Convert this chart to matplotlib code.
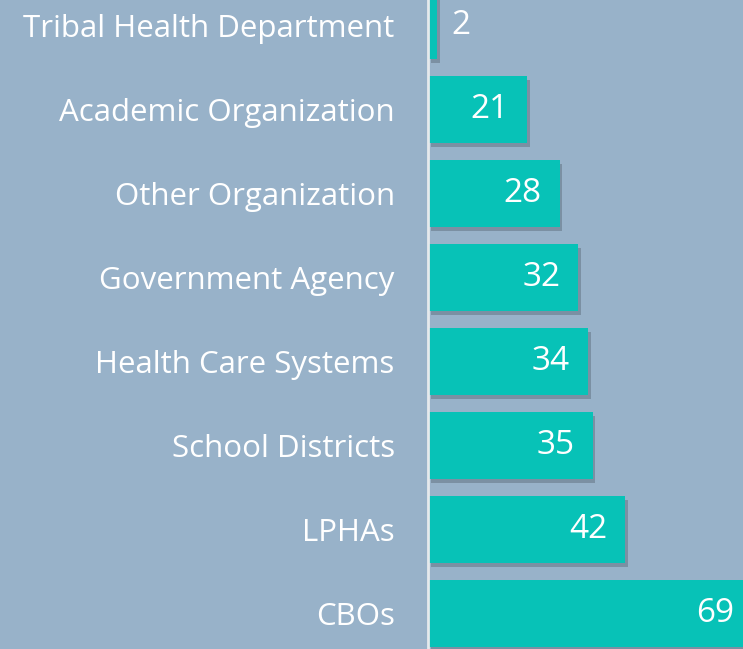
import matplotlib
matplotlib.use("Agg")
import matplotlib.pyplot as plt
import matplotlib.patheffects as pe

categories = ['CBOs', 'LPHAs', 'School Districts', 'Health Care Systems',
              'Government Agency', 'Other Organization', 'Academic Organization',
              'Tribal Health Department']
counts = [69, 42, 35, 34, 32, 28, 21, 2]

bg = '#98B2C9'
teal = '#07C2B7'

plt.rcParams['font.family'] = ['Open Sans', 'DejaVu Sans']

fig = plt.figure(figsize=(7.43, 6.49), dpi=100, facecolor=bg)
ax = fig.add_axes([428 / 743, 0, 315 / 743, 1], facecolor=bg)

bars = ax.barh(range(len(categories)), counts, height=0.8, color=teal, zorder=2)
for b in bars:
    b.set_path_effects([pe.SimplePatchShadow(offset=(2, -3), shadow_rgbFace='#45525e', alpha=0.35),
                        pe.Normal()])

ax.set_xlim(0, 67)
ax.set_ylim(-0.42, 7.30)

ax.set_yticks(range(len(categories)))
ax.set_yticklabels(categories, fontsize=22.5, color='white')
ax.tick_params(axis='y', length=0, pad=24)
ax.set_xticks([])

for s in ['top', 'right', 'bottom']:
    ax.spines[s].set_visible(False)
ax.spines['left'].set_color('#e6e9ec')
ax.spines['left'].set_linewidth(2)
ax.spines['left'].set_zorder(3)

for i, v in enumerate(counts):
    if v < 5:
        ax.annotate(str(v), (v, i), xytext=(10, 0), textcoords='offset points',
                    ha='left', va='center', fontsize=24, color='white')
    else:
        ax.annotate(str(v), (v, i), xytext=(-13, 0), textcoords='offset points',
                    ha='right', va='center', fontsize=24, color='white',
                    annotation_clip=False)

fig.savefig('out.png', dpi=100, facecolor=bg)
